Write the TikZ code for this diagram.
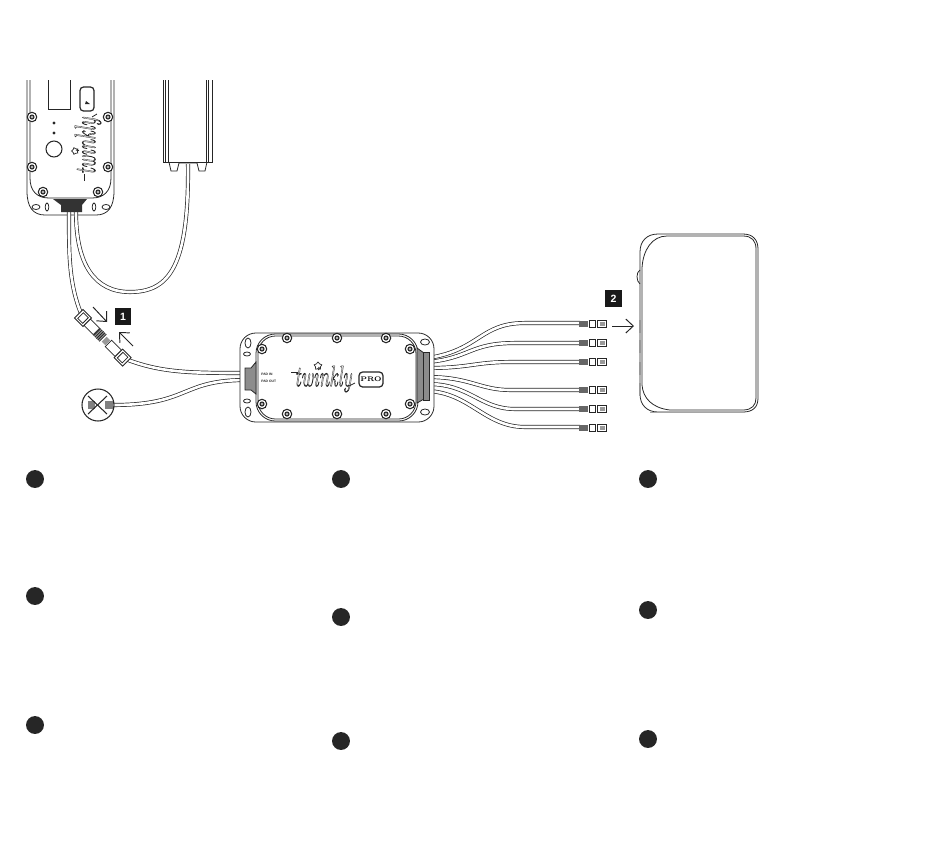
\documentclass[tikz,border=0pt]{standalone}
\usepackage{fontspec}
\newfontfamily\labelfont{Liberation Sans}
\usetikzlibrary{calc}
\usetikzlibrary{arrows.meta}
\usetikzlibrary{shapes.geometric}
\newdimen\pxu
\pxu=0.5669pt
\tikzset{
  every node/.style = {font = \footnotesize},
  thin line/.style = {line width=0.45pt, black!85},
  tag box/.style = {fill=black!90, text=white, minimum size=17\pxu, inner sep=0pt, font=\labelfont\fontsize{6}{7}\selectfont\bfseries},
  step dot/.style = {circle, fill=black!85, minimum size=18\pxu, inner sep=0pt},
  screw/.style = {draw=black!85, fill=white, line width=0.6pt, circle, minimum size=9.5\pxu, inner sep=0pt},
  grey part/.style = {fill=black!45, draw=black!85, line width=0.45pt},
  call arrow/.style = {-{Straight Barb[length=1.5mm,width=2.8mm]}, line width=0.55pt, black!85},
  logo/.style = {font=\itshape\fontsize{12}{12}\selectfont, black!85, inner sep=0pt, transform shape},
  tiny label/.style = {font=\labelfont\fontsize{1.9}{2}\selectfont\bfseries, black!85, inner sep=0pt, anchor=west},
}
% double cable: white core over a dark outline
\newcommand{\cable}[1]{
  \draw[line width=2.3pt, black!85] #1;
  \draw[line width=1.5pt, white] #1;
}
% plug at the end of one output cable
\newcommand{\plug}[1]{
  \begin{scope}[shift={(#1)}]
    \fill[black!60] (-1,-3) rectangle (8,3);
    \draw[thin line, fill=white] (9,-3.5) rectangle (15,3.5);
    \draw[thin line, fill=white] (17,-3.5) rectangle (26,3.5);
    \fill[black!40] (20,-2) rectangle (25,2);
  \end{scope}
}
\newcommand{\screwat}[1]{
  \node[screw] at (#1) {};
  \node[screw, fill=black!30, minimum size=4\pxu] at (#1) {};
}
% outlined lettering of the logo
\newcommand{\hollow}[1]{\special{pdf:code q 1 Tr 0.22 w}#1\special{pdf:code Q}}
\begin{document}
\begin{tikzpicture}[x=0.02cm, y=-0.02cm]
\useasboundingbox (0,0) rectangle (950,860);

% Controller, cut off at the top
\draw[thin line] (27,80) -- (27,191)
  .. controls (27,207) and (33,215) .. (45,215) -- (96,215)
  .. controls (108,215) and (114,207) .. (114,191) -- (114,80);
\draw[thin line] (30,80) -- (30,178) .. controls (30,191) and (37,198) .. (49,198) -- (92,198)
  .. controls (104,198) and (111,191) .. (111,178) -- (111,80);
\draw[thin line] (48,80) -- (48,109) -- (70,109) -- (70,80);
\draw[thin line, rounded corners=2pt, line width=0.7pt] (80,87) rectangle (94,111);
\fill[black!85] (85,104) -- (90,104) -- (86,101) -- cycle;
\draw[thin line] (54,123) circle (1);
\draw[thin line] (54,133) circle (1);
\draw[thin line, line width=0.6pt] (54,149) circle (8);
\foreach \px/\py in {32/117,108/117,32/167,108/167,43/192,98/192} {\screwat{\px,\py}}
\node[logo, rotate=90, xscale=.9, yscale=1.4] (ctrllogo) at (88,146) {\hollow{twinkly}};
\node[draw=black!85, line width=0.4pt, star, star points=5, minimum size=7\pxu, inner sep=0pt, rotate=90] (ctrlstar) at (75,151) {};
\coordinate (ctrlleada) at (84,181);
\coordinate (ctrlleadb) at (84,174);
\coordinate (ctrltaila) at (92,117);
\coordinate (ctrltailb) at (97,114);
\draw[thin line] (ctrlleada) -- (ctrlleadb);
\draw[thin line] (ctrltaila) -- (ctrltailb);
\draw[thin line] (36,207) ellipse (4 and 2.5);
\draw[thin line] (47,207) ellipse (1.8 and 4);
\draw[thin line] (94,207) ellipse (1.8 and 4);
\draw[thin line] (106,207) ellipse (4 and 2.5);

% Power supply, cut off at the top
\draw[thin line] (163,80) -- (163,162) -- (212,162) -- (212,80);
\foreach \px in {165,168,206,208} {\draw[thin line] (\px,80) -- (\px,162);}
\draw[thin line] (169,162) -- (171,171) -- (177,171) -- (179,163) -- (197,163) -- (199,171) -- (205,171) -- (207,162);

% Cables from controller and supply
\cable{(69,212) .. controls (69,250) and (68,285) .. (83,318)}
\cable{(76,212) .. controls (76,265) and (95,292) .. (130,292) .. controls (170,292) and (189,265) .. (188,164)}
\fill[black!80] (53,199) -- (87,199) -- (82,205) -- (82,212) -- (61,212) -- (61,205) -- cycle;

% Input cables of the box
\cable{(123,358) .. controls (160,373) and (190,373) .. (246,373)}
\cable{(113,405) .. controls (190,405) and (180,380) .. (246,380)}

% Plug pair with arrows
\begin{scope}[shift={(83,318)}, rotate=-45]
  \draw[thin line, fill=white] (-6,-6) rectangle (6,6);
  \draw[thin line] (-3.5,-4) rectangle (3.5,4);
  \draw[thin line, fill=white] (6,-4.5) rectangle (19,4.5);
  \fill[black!40] (20,-5) rectangle (28,5);
  \foreach \cx in {20,22,24,26,28} {\draw[thin line] (\cx,-5) -- (\cx,5);}
  \fill[black!40] (30,-3.5) rectangle (35,3.5);
  \draw[thin line, fill=white] (36,-4.5) rectangle (50,4.5);
  \draw[thin line, fill=white] (50,-6) rectangle (62,6);
  \draw[thin line] (52.5,-4) rectangle (59.5,4);
\end{scope}
\coordinate (arrowonea) at (93,307);
\coordinate (arrowoneb) at (107,322);
\coordinate (arrowtwoa) at (133,346);
\coordinate (arrowtwob) at (119,332);
\draw[call arrow] (arrowonea) -- (arrowoneb);
\draw[call arrow] (arrowtwoa) -- (arrowtwob);
\node[tag box] (tagone) at (123,316.5) {1};

% Crossed plug
\draw[thin line, line width=0.6pt] (98,405) circle (16);
\fill[black!50] (88,401) rectangle (95,409);
\fill[black!50] (105,401) rectangle (113,409);
\coordinate (crossa) at (88,396);
\coordinate (crossb) at (107,414);
\coordinate (crossc) at (107,396);
\coordinate (crossd) at (88,414);
\draw[thin line, line width=0.6pt] (crossa) -- (crossb);
\draw[thin line, line width=0.6pt] (crossc) -- (crossd);

% Output cables of the box
\cable{(428,358) .. controls (480,350) and (480,323) .. (525,323) -- (580,323)}
\cable{(428,362) .. controls (470,358) and (470,343) .. (515,343) -- (580,343)}
\cable{(428,368) .. controls (470,368) and (475,362) .. (510,362) -- (580,362)}
\cable{(428,377) .. controls (470,377) and (480,390) .. (510,390) -- (580,390)}
\cable{(428,384) .. controls (470,384) and (480,409) .. (515,409) -- (580,409)}
\cable{(428,391) .. controls (470,393) and (485,427) .. (525,427) -- (580,427)}
\foreach \py in {324,343,362,390,409,428} {\plug{580,\py}}

% Box in the middle
\draw[thin line, fill=white, rounded corners=9pt] (240,333) rectangle (434,422);
\draw[thin line, rounded corners=11pt] (256,334) rectangle (418,421);
\draw[thin line, rounded corners=10pt] (258,336) rectangle (416,419);
\draw[thin line] (248,343) ellipse (3 and 5);
\draw[thin line] (248,412) ellipse (3 and 5);
\draw[thin line] (247,354) ellipse (3.5 and 2);
\draw[thin line] (247,401) ellipse (3.5 and 2);
\draw[thin line] (425,342) ellipse (4.5 and 3);
\draw[thin line] (425,412) ellipse (4.5 and 3);
\foreach \px/\py in {287/338,337/338,386/338,262/349,410/349,262/404,410/404,287/414,337/414,386/414} {\screwat{\px,\py}}
\draw[grey part] (245,368) -- (251,368) -- (256,362) -- (256,394) -- (251,390) -- (245,390) -- cycle;
\draw[grey part] (417,348) -- (424,353) -- (424,399) -- (417,403) -- cycle;
\draw[grey part] (423,352) rectangle (429,400);
\node[tiny label] (padin) at (261,374) {PAD IN};
\node[tiny label] (padout) at (261,381) {PAD OUT};
\node[logo, xscale=.9, yscale=1.4] (boxlogo) at (323,379) {\hollow{twinkly}};
\node[draw=black!85, line width=0.4pt, star, star points=5, minimum size=8\pxu, inner sep=0pt] (boxstar) at (318,366) {};
\coordinate (boxleada) at (291,372);
\coordinate (boxleadb) at (298,372);
\coordinate (boxtaila) at (349,386);
\coordinate (boxtailb) at (355,383);
\draw[thin line] (boxleada) -- (boxleadb);
\draw[thin line] (boxtaila) -- (boxtailb);
\node[draw=black!85, line width=0.7pt, rounded corners=2pt, inner sep=0pt, minimum width=24\pxu, minimum height=15\pxu, font=\fontsize{3.8}{5}\selectfont\bfseries] (probox) at (371,379.5) {PRO};

% Device on the right
\draw[thin line] (640,252) .. controls (640,241) and (647,234) .. (658,234) -- (743,234)
  .. controls (753,234) and (758,240) .. (758,249) -- (758,398)
  .. controls (758,407) and (753,412) .. (743,412) -- (658,412)
  .. controls (647,412) and (640,405) .. (640,394) -- cycle;
\draw[thin line] (642,268) .. controls (643,250) and (652,236) .. (667,236) -- (743,236)
  .. controls (752,236) and (756,241) .. (756,249) -- (756,398)
  .. controls (756,405) and (752,410) .. (743,410) -- (670,410)
  .. controls (652,408) and (643,398) .. (642,385) -- cycle;
\draw[thin line] (640,270) .. controls (636,272) and (636,281) .. (640,284);
\fill[black!35] (650,412) rectangle (745,413);
\foreach \py in {320,340,362,383} {\fill[black!40] (638.5,\py) rectangle (640.5,\py+13);}
\node[tag box] (tagtwo) at (613.5,298.5) {2};
\coordinate (arrowthreea) at (612,326);
\coordinate (arrowthreeb) at (634,326);
\draw[call arrow] (arrowthreea) -- (arrowthreeb);

% Step markers
\foreach \nm/\px/\py in {a/35/479, b/35/596, c/35/725, d/341/479, e/341/617, f/341/741, g/648/479, h/648/610, i/648/739} {
  \node[step dot] (step\nm) at (\px,\py) {};
}
\end{tikzpicture}
\end{document}
